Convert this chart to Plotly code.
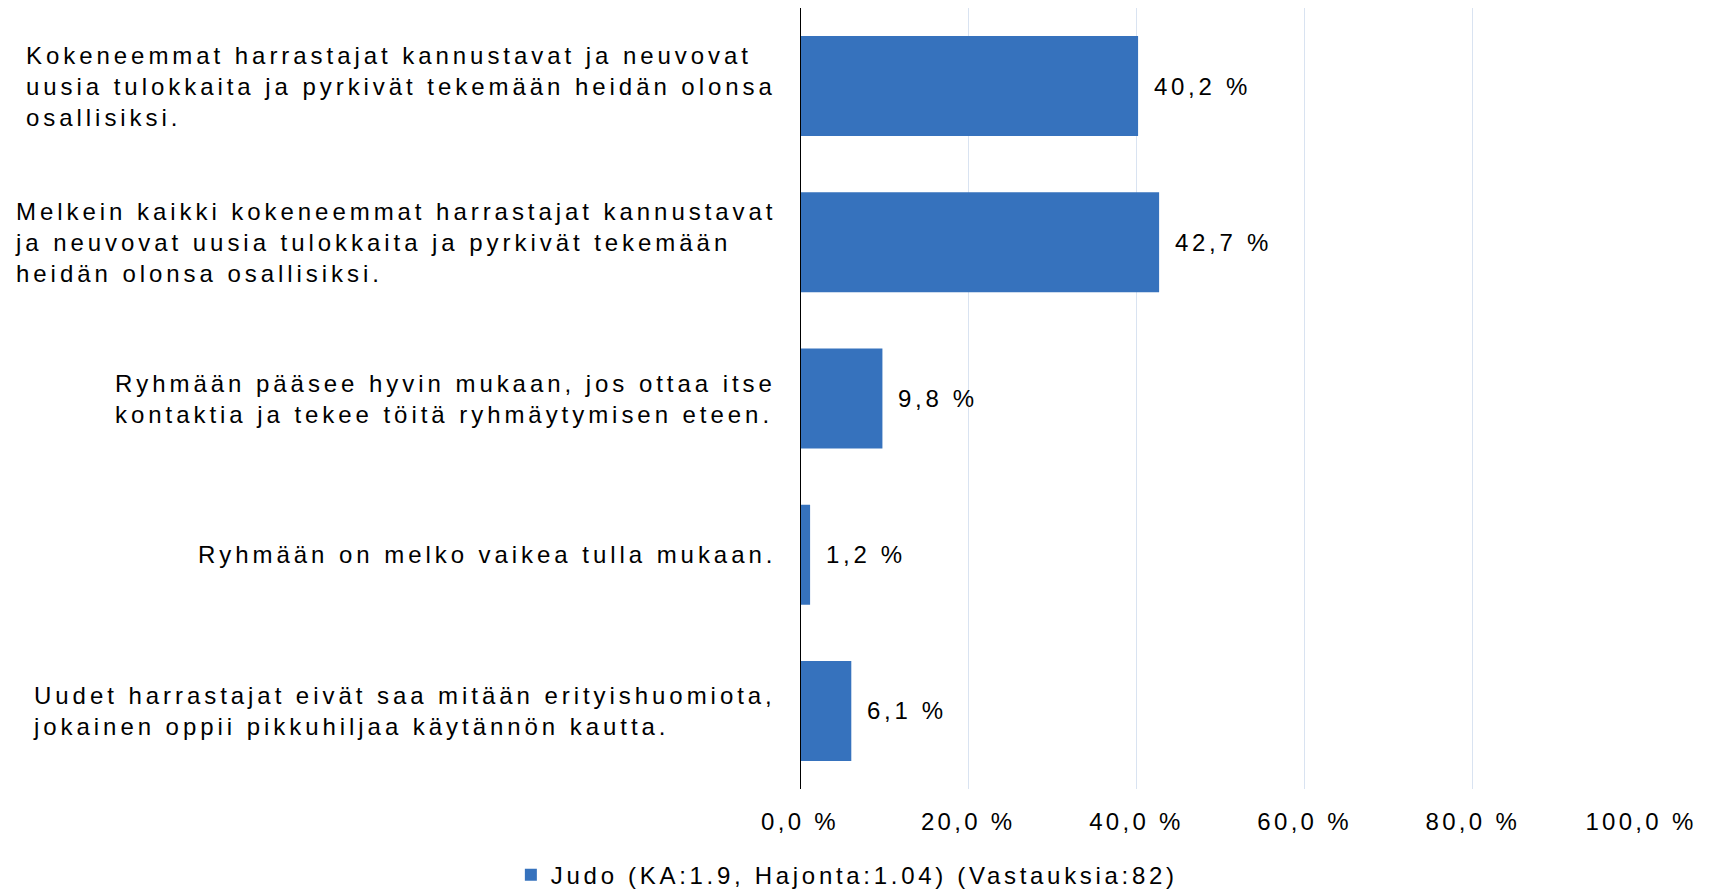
import plotly.graph_objects as go

categories = [
    "Kokeneemmat harrastajat kannustavat ja neuvovat<br>uusia tulokkaita ja pyrkivät tekemään heidän olonsa<br>osallisiksi.",
    "Melkein kaikki kokeneemmat harrastajat kannustavat<br>ja neuvovat uusia tulokkaita ja pyrkivät tekemään<br>heidän olonsa osallisiksi.",
    "Ryhmään pääsee hyvin mukaan, jos ottaa itse<br>kontaktia ja tekee töitä ryhmäytymisen eteen.",
    "Ryhmään on melko vaikea tulla mukaan.",
    "Uudet harrastajat eivät saa mitään erityishuomiota,<br>jokainen oppii pikkuhiljaa käytännön kautta.",
]
values = [40.2, 42.7, 9.8, 1.2, 6.1]
value_labels = ["40,2 %", "42,7 %", "9,8 %", "1,2 %", "6,1 %"]
tick_vals = [0, 20, 40, 60, 80, 100]
tick_text = ["0,0 %", "20,0 %", "40,0 %", "60,0 %", "80,0 %", "100,0 %"]
series_name = "Judo (KA:1.9, Hajonta:1.04) (Vastauksia:82)"

FONT = "Liberation Sans"
FS = 24
LS = 3.8


def spaced(s, ls=LS):
    return "<br>".join(f'<span style="letter-spacing:{ls}px">{p}</span>' for p in s.split("<br>"))


fig = go.Figure()
fig.add_trace(go.Bar(
    x=values, y=list(range(len(categories))), orientation="h",
    name=spaced(series_name, 3.7), marker=dict(color="#3672bd", line=dict(width=0)),
    showlegend=True,
))

annotations = []
for i, (c, v, t) in enumerate(zip(categories, values, value_labels)):
    annotations.append(dict(x=0, xref="paper", y=i, yref="y", text=spaced(c, 3.95),
                            xanchor="right", yanchor="middle", align="left",
                            xshift=-22, showarrow=False,
                            font=dict(family=FONT, size=FS, color="black")))
    annotations.append(dict(x=v, xref="x", y=i, yref="y", text=spaced(t, 3.7),
                            xanchor="left", yanchor="middle", xshift=14,
                            showarrow=False,
                            font=dict(family=FONT, size=FS, color="black")))

W, H = 1705, 883
fig.update_layout(
    width=W, height=H,
    margin=dict(l=792, r=72, t=0, b=102),
    paper_bgcolor="white", plot_bgcolor="white",
    bargap=0.36,
    font=dict(family=FONT, size=FS, color="black"),
    xaxis=dict(range=[0, 100], tickvals=tick_vals,
               ticktext=[spaced(t, 3.3) for t in tick_text],
               showgrid=True, gridcolor="#d9e3f1", gridwidth=1.2,
               zeroline=False, ticks="", ticklabelstandoff=16,
               showline=False, automargin=False,
               tickfont=dict(family=FONT, size=FS)),
    yaxis=dict(range=[4.5, -0.5], showticklabels=False, showgrid=False,
               zeroline=False, showline=False),
    shapes=[dict(type="line", xref="x", yref="paper", x0=0, x1=0, y0=0, y1=1,
                 line=dict(color="black", width=2))],
    annotations=annotations,
    legend=dict(orientation="h", xref="container", yref="container",
                x=0.492, xanchor="center", y=0.018, yanchor="middle",
                itemwidth=30, font=dict(family=FONT, size=FS)),
)
fig.write_html("out.html")
